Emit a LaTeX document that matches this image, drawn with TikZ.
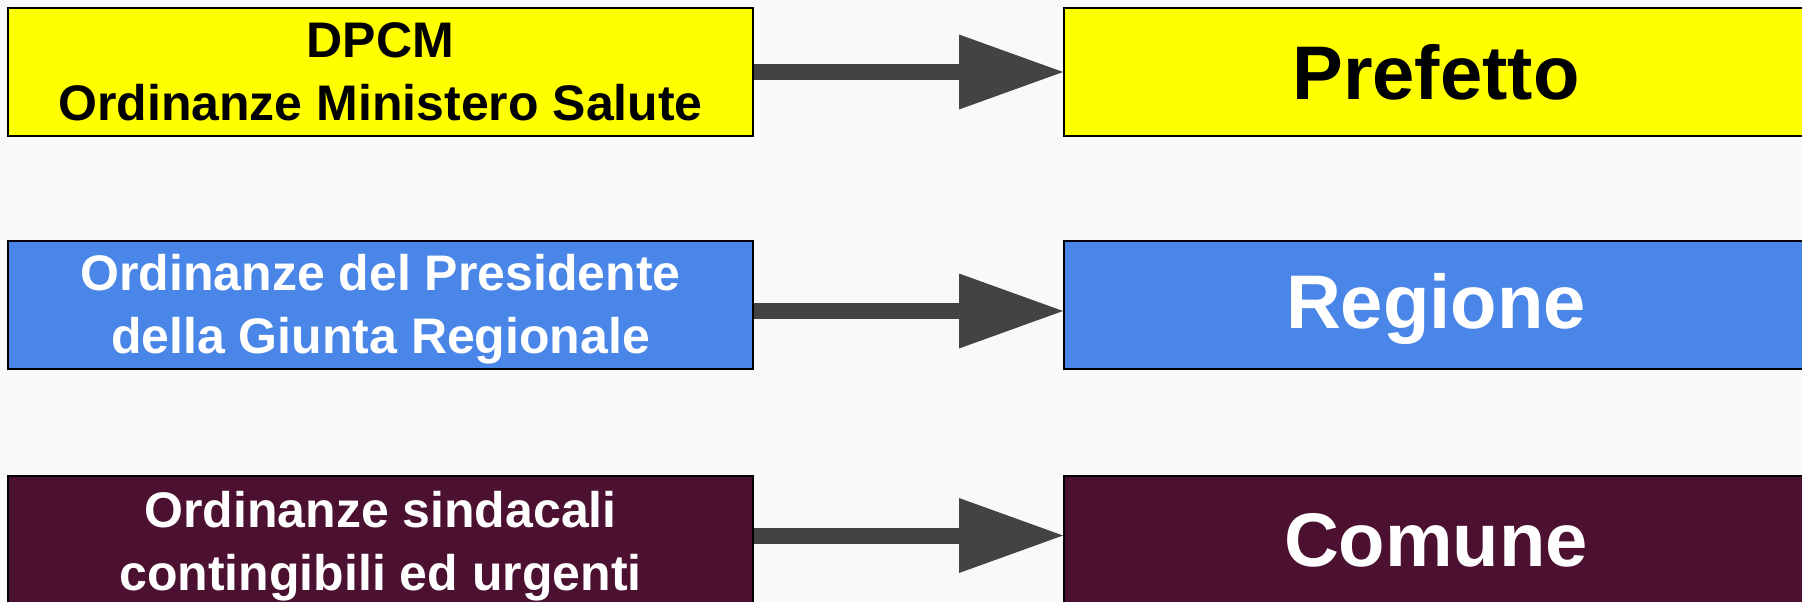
\documentclass[tikz,border=0pt]{standalone}
\usepackage{fontspec}
\setmainfont{Liberation Sans}
\usetikzlibrary{arrows.meta}
\definecolor{bgc}{HTML}{F9F9F9}
\definecolor{ylw}{HTML}{FFFF00}
\definecolor{blu}{HTML}{4A86E8}
\definecolor{mrn}{HTML}{4C1130}
\definecolor{arr}{HTML}{434343}
\tikzset{
  leftbox/.style={draw=black, line width=2pt, minimum width=745pt, minimum height=128pt,
    inner sep=0pt},
  rightbox/.style={draw=black, line width=2pt, minimum width=760pt, minimum height=128pt,
    inner sep=0pt, anchor=west},
  lefttext/.style={inner sep=0pt, align=center, font=\bfseries\fontsize{50}{63}\selectfont},
  righttext/.style={inner sep=0pt, font=\bfseries\fontsize{76}{90}\selectfont},
  bigarrow/.style={draw=arr, line width=16pt,
    -{Triangle[length=104pt,width=75pt,line width=0pt]}}
}
\begin{document}
\begin{tikzpicture}[x=1pt,y=-1pt]
\useasboundingbox[fill=bgc] (0,0) rectangle (1802,602);
\node[leftbox, fill=ylw] (l1) at (380.5,72) {};
\node[leftbox, fill=blu] (l2) at (380.5,305) {};
\node[leftbox, fill=mrn] (l3) at (380.5,540) {};
\node[rightbox, fill=ylw] (r1) at (1063,72) {};
\node[rightbox, fill=blu] (r2) at (1063,305) {};
\node[rightbox, fill=mrn] (r3) at (1063,540) {};
\node[lefttext, text=black] (t1) at (l1.center) {DPCM\\Ordinanze Ministero Salute};
\node[lefttext, text=white] (t2) at ([yshift=-4pt]l2.center) {Ordinanze del Presidente\\della Giunta Regionale};
\node[lefttext, text=white] (t3) at ([yshift=-6pt]l3.center) {Ordinanze sindacali\\contingibili ed urgenti};
\node[righttext, text=black] (u1) at ([xshift=373pt]r1.west) {Prefetto};
\node[righttext, text=white] (u2) at ([xshift=373pt,yshift=-4pt]r2.west) {Regione};
\node[righttext, text=white] (u3) at ([xshift=373pt]r3.west) {Comune};
\draw[bigarrow] (l1.east) -- (r1.west);
\draw[bigarrow] ([yshift=-6pt]l2.east) -- ([yshift=-6pt]r2.west);
\draw[bigarrow] ([yshift=4.5pt]l3.east) -- ([yshift=4.5pt]r3.west);
\end{tikzpicture}
\end{document}
